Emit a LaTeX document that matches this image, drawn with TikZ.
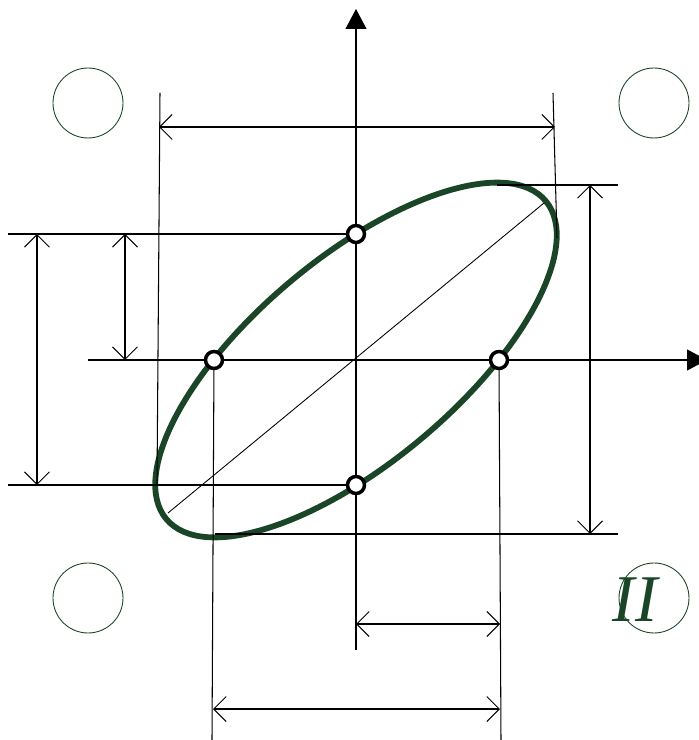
\documentclass[tikz,border=0pt]{standalone}
\usepackage{fontspec}
\newfontfamily\tms{Liberation Serif}
\usetikzlibrary{arrows.meta}
\definecolor{ink}{HTML}{000000}
\definecolor{grn}{HTML}{1B4527}
\tikzset{
  thn/.style ={line width=.6pt,ink},
  dimarr/.style={{Straight Barb[length=2.5mm,width=5mm]}-{Straight Barb[length=2.5mm,width=5mm]},line width=.6pt,ink},
  axs/.style ={-{Triangle[length=4mm,width=4.2mm]},line width=.6pt,ink},
  dot/.style ={circle,draw=ink,fill=white,line width=2pt,inner sep=0pt,minimum size=3.4mm},
  ring/.style={circle,draw=grn,line width=.5pt,inner sep=0pt,minimum size=1.4cm},
  lbl/.style ={font=\tms\itshape\fontsize{38}{40}\selectfont,text=grn},
}
\begin{document}
\begin{tikzpicture}[x=0.02cm,y=0.02cm]
\useasboundingbox (-356,-380) rectangle (343,360);
% ===== axes =====
\coordinate (O) at (0,0);
\coordinate (ybot) at (0,-290);
\coordinate (ytop) at (0,351);
\coordinate (xlft) at (-268,0);
\coordinate (xrgt) at (351,0);
\draw[axs] (ybot) -- (ytop);
\draw[axs] (xlft) -- (xrgt);

% ===== corner rings =====
\node[ring] (r1) at (-268,257) {};
\node[ring] (r2) at (298,257) {};
\node[ring] (r3) at (-268,-238) {};
\node[ring] (r4) at (298,-238) {};
\node[lbl] (quad) at (279,-240) {II};

% ===== ellipse and major axis =====
\draw[grn,line width=3.3pt,rotate=40] (O) ellipse [x radius=4.952cm,y radius=2.046cm];
\coordinate (mjA) at (-188,-153);
\coordinate (mjB) at (188,157);
\draw[thn,line width=.5pt] (mjA) -- (mjB);
\coordinate (etop) at (141,175);
\coordinate (ebot) at (-141,-174);
\coordinate (elft) at (-199,-124);
\coordinate (ergt) at (201,122);

% ===== extension lines =====
\coordinate (L1) at (-348,126);
\coordinate (L2) at (-348,-125);
\coordinate (R1) at (262,175);
\coordinate (R2) at (262,-174);
\coordinate (T1) at (-196,267);
\coordinate (T2) at (197,267);
\coordinate (B1) at (-144,-380);
\coordinate (B2) at (145,-380);
\draw[thn] (L1) -- (0,126);
\draw[thn] (L2) -- (0,-125);
\draw[thn] (etop) -- (R1);
\draw[thn] (ebot) -- (R2);
\draw[thn] (T1) -- (elft);
\draw[thn] (T2) -- (ergt);
\draw[thn] (-142,0) -- (B1);
\draw[thn] (143,0) -- (B2);

% ===== dimensions =====
\draw[dimarr] (-197,233) -- (199,233);
\draw[dimarr] (-319,126) -- (-319,-125);
\draw[dimarr] (-231,126) -- (-231,0);
\draw[dimarr] (234,175) -- (234,-174);
\draw[dimarr] (0,-264) -- (144,-264);
\draw[dimarr] (-143,-349) -- (144,-349);

% ===== intercept points =====
\node[dot] (py1) at (0,126) {};
\node[dot] (py2) at (0,-125) {};
\node[dot] (px1) at (-142,0) {};
\node[dot] (px2) at (143,0) {};
\end{tikzpicture}
\end{document}
